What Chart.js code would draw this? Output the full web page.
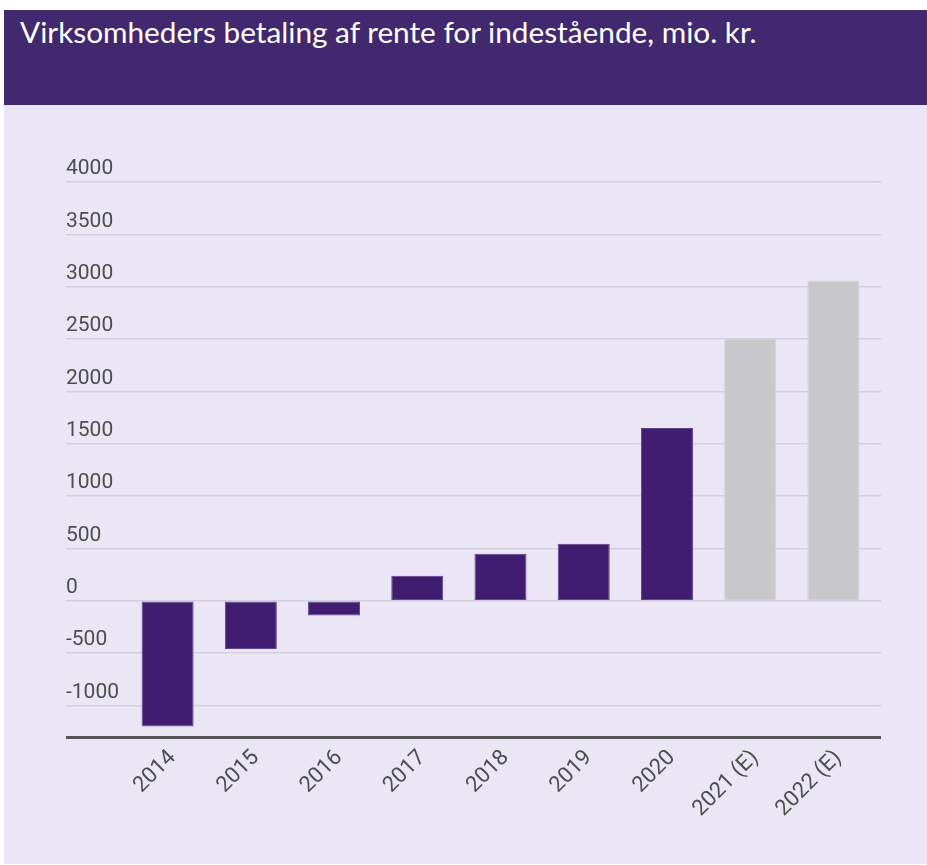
<!DOCTYPE html>
<html lang="da">
<head>
<meta charset="utf-8">
<title>Virksomheders betaling af rente for indestående</title>
<script src="https://cdn.jsdelivr.net/npm/chart.js@4.4.0/dist/chart.umd.min.js"></script>
<style>
    html, body {
        margin: 0;
        padding: 0;
        background: #ffffff;
    }
    .header {
        position: absolute;
        left: 4px;
        top: 10px;
        width: 923px;
        height: 95px;
        background: #42286e;
    }
    .header h1 {
        margin: 0;
        padding: 4px 0 0 16px;
        font-family: Lato, "Open Sans", sans-serif;
        font-weight: normal;
        font-size: 28px;
        line-height: 36px;
        color: #ffffff;
        white-space: nowrap;
    }
    .panel {
        position: absolute;
        left: 4px;
        top: 105px;
        width: 923px;
        height: 759px;
        background: #eae6f5;
    }
</style>
</head>
<body>
<div class="header"><h1><span id="title">Virksomheders betaling af rente for indestående, mio. kr.</span></h1></div>
<div class="panel">
    <canvas id="renteChart" width="923" height="759"></canvas>
</div>
<script>
// Data
const years = ['2014', '2015', '2016', '2017', '2018', '2019', '2020', '2021 (E)', '2022 (E)'];
const renteValues = [-1200, -460, -140, 240, 450, 545, 1650, 2500, 3060];
const tickValues = [-1300, -1000, -500, 0, 500, 1000, 1500, 2000, 2500, 3000, 3500, 4000];
const axisMin = -1300;
const axisMax = 4000;

const actualColor = '#401d70';
const actualBorder = '#5e4488';
const estimateColor = '#c8c8ca';
const estimateBorder = '#d2d1d6';
const gridColor = '#d3cfe0';
const baseLineColor = '#555555';
const labelColor = '#4d4d4d';

// Fit title to the width it has in the reference
(function fitTitle() {
    const span = document.getElementById('title');
    const target = 737;
    const size = 28 * target / span.offsetWidth;
    span.parentNode.style.fontSize = size.toFixed(2) + 'px';
})();

function isEstimate(label) {
    return label.indexOf('(E)') !== -1;
}

function gridLineColor(ctx) {
    return ctx.tick && ctx.tick.value === axisMin ? baseLineColor : gridColor;
}

function gridLineWidth(ctx) {
    return ctx.tick && ctx.tick.value === axisMin ? 3 : 1.5;
}

function setTicks(scale) {
    scale.ticks = tickValues.map(v => ({ value: v }));
}

const ctx = document.getElementById('renteChart').getContext('2d');

new Chart(ctx, {
    type: 'bar',
    data: {
        labels: years,
        datasets: [{
            data: renteValues,
            backgroundColor: years.map(y => isEstimate(y) ? estimateColor : actualColor),
            borderColor: years.map(y => isEstimate(y) ? estimateBorder : actualBorder),
            borderWidth: 1,
            borderSkipped: false,
            barPercentage: 0.625,
            categoryPercentage: 1
        }]
    },
    options: {
        responsive: false,
        animation: false,
        layout: {
            padding: { left: 62, right: 46, top: 77, bottom: 37 }
        },
        plugins: {
            legend: { display: false },
            tooltip: { enabled: false }
        },
        scales: {
            x: {
                grid: { display: false },
                border: { display: false },
                ticks: {
                    maxRotation: 45,
                    minRotation: 45,
                    padding: 0,
                    labelOffset: 5,
                    color: labelColor,
                    font: { family: 'Roboto', size: 22 }
                },
                afterFit: function(scale) {
                    scale.height = 90;
                }
            },
            y: {
                min: axisMin,
                max: axisMax,
                afterBuildTicks: setTicks,
                afterFit: function(scale) {
                    scale.width = 60;
                },
                border: { display: false },
                grid: {
                    color: gridLineColor,
                    lineWidth: gridLineWidth,
                    tickLength: 60
                },
                ticks: {
                    mirror: true,
                    padding: -60,
                    labelOffset: -13,
                    autoSkip: false,
                    color: labelColor,
                    font: { family: 'Roboto', size: 21 },
                    callback: function(value) {
                        return value === axisMin ? '' : String(value);
                    }
                }
            },
            y2: {
                position: 'right',
                min: axisMin,
                max: axisMax,
                afterBuildTicks: setTicks,
                afterFit: function(scale) {
                    scale.width = 6;
                },
                border: { display: false },
                grid: {
                    drawOnChartArea: false,
                    color: gridLineColor,
                    lineWidth: gridLineWidth,
                    tickLength: 6
                },
                ticks: { display: false }
            }
        }
    }
});
</script>
</body>
</html>
